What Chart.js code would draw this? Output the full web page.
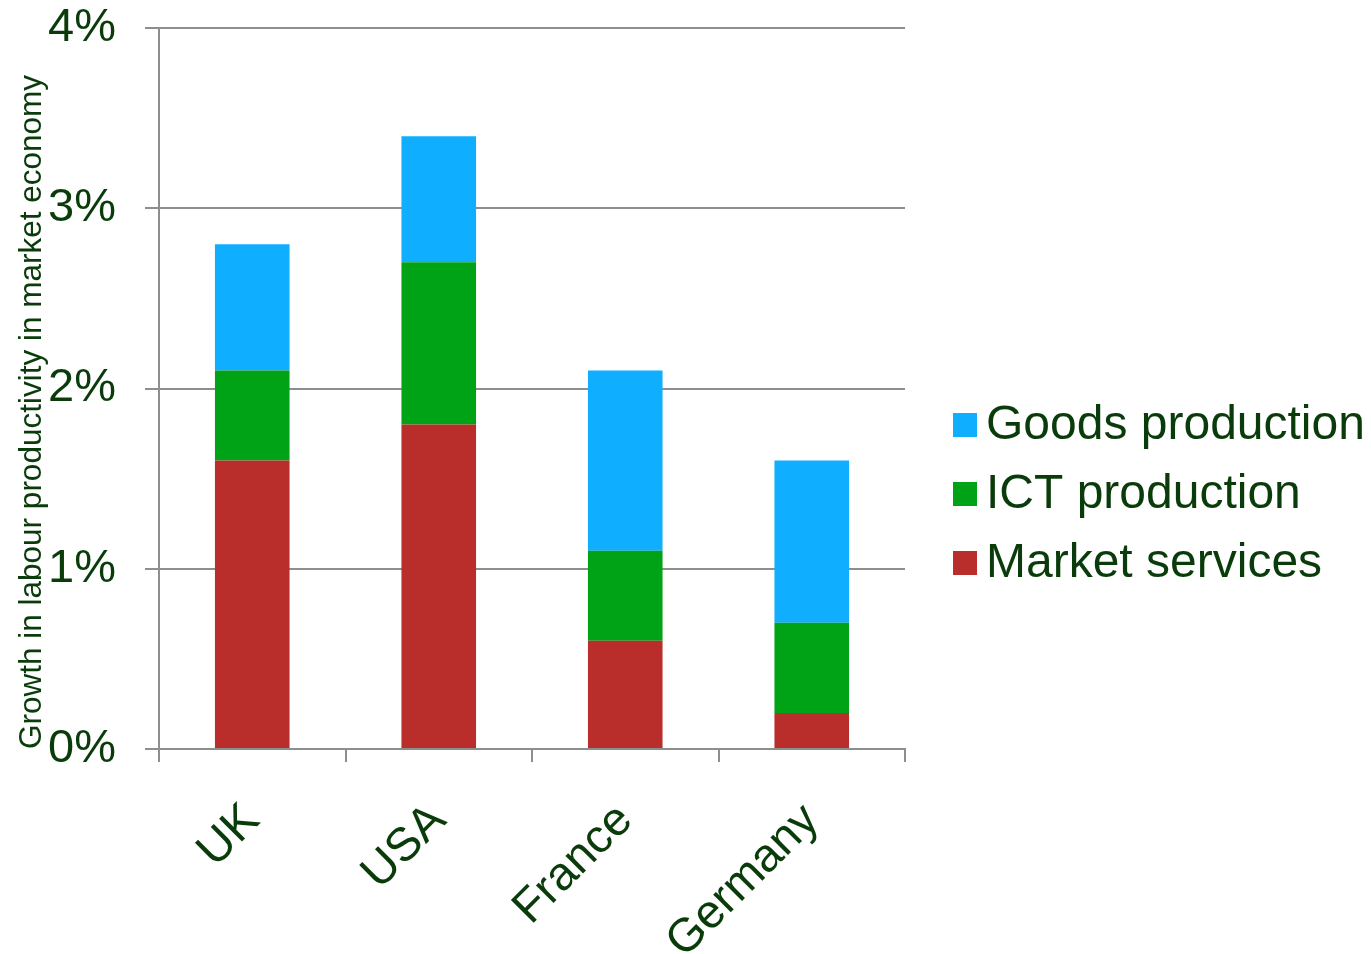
<!DOCTYPE html>
<html>
<head>
<meta charset="utf-8">
<script src="https://cdn.jsdelivr.net/npm/chart.js@4.4.1/dist/chart.umd.min.js"></script>
<style>
    body { margin: 0; background: #fff; }
    #wrap { width: 1371px; height: 954px; }
</style>
</head>
<body>
<div id="wrap"><canvas id="bar_chart"></canvas></div>
<script>
const countries = ['UK', 'USA', 'France', 'Germany']
const marketServices = [1.6, 1.8, 0.6, 0.2]
const ictProduction = [0.5, 0.9, 0.5, 0.5]
const goodsProduction = [0.7, 0.7, 1.0, 0.9]
const yTicks = [0, 1, 2, 3, 4]

const textColor = '#0a3b0a'
const lineColor = '#8c8f8c'

// legend on the right, drawn by hand so the spacing matches
const sideLegend = {
    id: 'sideLegend',
    afterDraw(chart) {
        const ctx = chart.ctx
        const items = chart.data.datasets.slice().reverse()
        ctx.save()
        ctx.font = '48px "Liberation Sans", Arial, sans-serif'
        ctx.textBaseline = 'middle'
        ctx.textAlign = 'left'
        items.forEach((ds, i) => {
            const y = 425 + i * 69
            ctx.fillStyle = ds.backgroundColor
            ctx.fillRect(953, y - 12, 24, 24)
            ctx.fillStyle = textColor
            ctx.fillText(ds.label, 986, y + 1)
        })
        ctx.restore()
    }
}

new Chart(document.getElementById('bar_chart'), {
    type: 'bar',
    data: {
        labels: countries,
        datasets: [
            { label: 'Market services', data: marketServices, backgroundColor: '#b92d2b' },
            { label: 'ICT production', data: ictProduction, backgroundColor: '#00a316' },
            { label: 'Goods production', data: goodsProduction, backgroundColor: '#10aeff' },
        ],
    },
    options: {
        responsive: true,
        maintainAspectRatio: false,
        animation: false,
        barPercentage: 0.4,
        categoryPercentage: 1,
        layout: { padding: { top: 28, right: 466, left: 0, bottom: 0 } },
        plugins: {
            legend: { display: false },
            tooltip: { enabled: false },
        },
        scales: {
            x: {
                stacked: true,
                afterFit: (scale) => {
                    scale.height = 954 - 749
                    scale.paddingLeft = 0
                    scale.paddingRight = 0
                },
                grid: { drawOnChartArea: false, drawTicks: true, tickLength: 13, color: lineColor, lineWidth: 2, offset: true },
                border: { color: lineColor, width: 2 },
                ticks: {
                    autoSkip: false,
                    minRotation: 45,
                    maxRotation: 45,
                    padding: 31,
                    color: textColor,
                    font: { family: '"Liberation Sans", Arial, sans-serif', size: 47 },
                },
            },
            y: {
                stacked: true,
                min: 0,
                max: 4,
                afterFit: (scale) => {
                    scale.width = 159
                    scale.paddingTop = 0
                    scale.paddingBottom = 0
                },
                afterBuildTicks: (scale) => { scale.ticks = yTicks.map(v => ({ value: v })) },
                grid: { tickLength: 14, color: lineColor, lineWidth: 2 },
                border: { color: lineColor, width: 2 },
                ticks: {
                    padding: 29,
                    color: textColor,
                    font: { family: '"Liberation Sans", Arial, sans-serif', size: 47 },
                    callback: (v) => v + '%',
                },
                title: {
                    display: true,
                    align: 'start',
                    text: 'Growth in labour productivity in market economy',
                    color: textColor,
                    padding: { top: 13, bottom: 0 },
                    font: { family: '"Liberation Sans", Arial, sans-serif', size: 31.5 },
                },
            },
        },
    },
    plugins: [sideLegend],
})
</script>
</body>
</html>
